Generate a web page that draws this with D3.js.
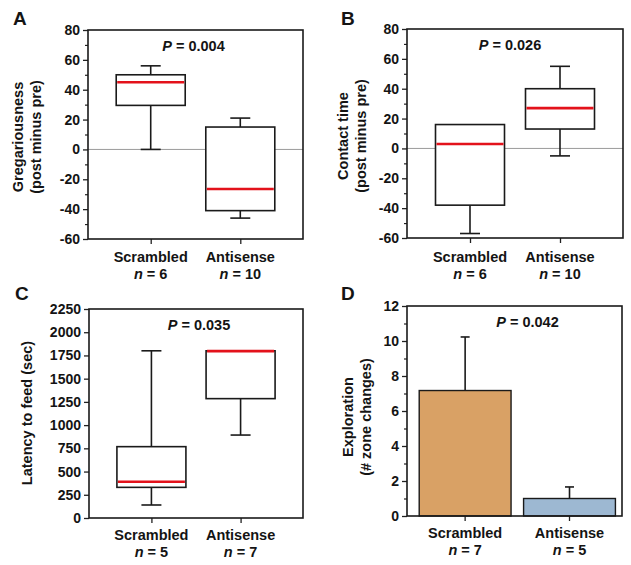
<!DOCTYPE html>
<html><head><meta charset="utf-8">
<script src="https://cdn.jsdelivr.net/npm/d3@7"></script>
<style>
body{margin:0;background:#fff;}
text{font-family:"Liberation Sans",Arial,sans-serif;font-weight:bold;fill:#141414;}
</style></head><body>
<svg id="c" width="631" height="565"></svg>
<script>
// ---- data ----
const groups = ["Scrambled", "Antisense"];
const nA = [6, 10], nB = [6, 10], nC = [5, 7], nD = [7, 5];
// box stats: [min, q1, median, q3, max]
const boxA = [[0, 29.5, 45, 50, 56], [-46, -41, -26.5, 15, 21]];
const boxB = [[-57, -38, 3, 16, 16], [-5, 13, 27, 40, 55]];
const boxC = [[140, 330, 390, 768, 1800], [893, 1285, 1797, 1800, 1800]];
const barD = [7.17, 1.0];
const errD = [10.23, 1.66];
const pA = "0.004", pB = "0.026", pC = "0.035", pD = "0.042";
const ticksA = [-60, -40, -20, 0, 20, 40, 60, 80];
const ticksC = [0, 250, 500, 750, 1000, 1250, 1500, 1750, 2000, 2250];
const ticksD = [0, 2, 4, 6, 8, 10, 12];
const barColors = ["#D9A165", "#9DB8D2"];

const svg = d3.select("#c");

function panel(o) {
  const g = svg.append("g");
  const y = d3.scaleLinear().domain(o.domain).range([o.bottom, o.top]);
  let x;
  if (o.bars) {
    x = d3.scaleBand().domain(groups).range([o.left, o.right]).paddingInner(0.12).paddingOuter(0.09).align(0.65);
  } else {
    x = d3.scalePoint().domain(groups).range([o.left, o.right]).padding(0.7);
  }
  const cx = d => o.bars ? x(d) + x.bandwidth() / 2 : x(d);

  // zero line
  if (o.zero) {
    g.append("line").attr("x1", o.left).attr("x2", o.right)
      .attr("y1", y(0)).attr("y2", y(0)).attr("stroke", "#9a9a9a").attr("stroke-width", 1);
  }
  // minor ticks
  if (o.minor) {
    g.append("g").attr("transform", `translate(${o.left},0)`)
      .call(d3.axisLeft(y).tickValues(o.minor).tickSize(3).tickFormat(""))
      .call(s => s.select(".domain").remove())
      .selectAll("line").attr("stroke", "#222").attr("stroke-width", 1.2);
  }
  // y axis
  const ya = g.append("g").attr("transform", `translate(${o.left},0)`)
    .call(d3.axisLeft(y).tickValues(o.ticks).tickSize(5).tickPadding(3).tickSizeOuter(0)
      .tickFormat(d => String(d)));
  ya.select(".domain").remove();
  ya.selectAll("line").attr("stroke", "#222").attr("stroke-width", 1.3);
  ya.selectAll("text").style("font-size", "14px").attr("fill", "#141414");

  // x axis ticks (outward)
  const xa = g.append("g").attr("transform", `translate(0,${o.bottom})`)
    .call(d3.axisBottom(x).tickSize(5).tickFormat("").tickSizeOuter(0));
  xa.select(".domain").remove();
  if (o.bars) xa.selectAll(".tick").attr("transform", d => `translate(${cx(d)},0)`);
  xa.selectAll("line").attr("stroke", "#222").attr("stroke-width", 1.3);

  // marks
  if (o.boxes) {
    o.boxes.forEach((b, i) => {
      const c = cx(groups[i]), w = 69, cap = 20;
      const gg = g.append("g").attr("stroke", "#1a1a1a").attr("stroke-width", 1.6).attr("fill", "none");
      if (b[4] > b[3]) {
        gg.append("line").attr("x1", c).attr("x2", c).attr("y1", y(b[3])).attr("y2", y(b[4]));
        gg.append("line").attr("x1", c - cap / 2).attr("x2", c + cap / 2).attr("y1", y(b[4])).attr("y2", y(b[4]));
      }
      if (b[0] < b[1]) {
        gg.append("line").attr("x1", c).attr("x2", c).attr("y1", y(b[1])).attr("y2", y(b[0]));
        gg.append("line").attr("x1", c - cap / 2).attr("x2", c + cap / 2).attr("y1", y(b[0])).attr("y2", y(b[0]));
      }
      gg.append("rect").attr("x", c - w / 2).attr("width", w)
        .attr("y", y(b[3])).attr("height", y(b[1]) - y(b[3])).attr("fill", "#fff");
      g.append("line").attr("x1", c - w / 2 + 1).attr("x2", c + w / 2 - 1)
        .attr("y1", y(b[2])).attr("y2", y(b[2])).attr("stroke", "#E3121B").attr("stroke-width", 2.6);
    });
  }
  if (o.bars) {
    o.bars.forEach((v, i) => {
      const c = cx(groups[i]);
      g.append("line").attr("x1", c).attr("x2", c).attr("y1", y(v)).attr("y2", y(o.err[i]))
        .attr("stroke", "#1a1a1a").attr("stroke-width", 1.6);
      g.append("line").attr("x1", c - 4.5).attr("x2", c + 4.5).attr("y1", y(o.err[i])).attr("y2", y(o.err[i]))
        .attr("stroke", "#1a1a1a").attr("stroke-width", 1.6);
      g.append("rect").attr("x", x(groups[i])).attr("width", x.bandwidth())
        .attr("y", y(v)).attr("height", y(0) - y(v))
        .attr("fill", barColors[i]).attr("stroke", "#1a1a1a").attr("stroke-width", 1.4);
    });
  }

  // frame
  g.append("rect").attr("x", o.left).attr("y", o.top).attr("width", o.right - o.left).attr("height", o.bottom - o.top)
    .attr("fill", "none").attr("stroke", "#1a1a1a").attr("stroke-width", 1.6);

  // P label
  const pt = g.append("text").attr("x", (o.left + o.right) / 2 + o.pdx).attr("y", o.top + 21)
    .attr("text-anchor", "middle").style("font-size", "14.5px");
  pt.append("tspan").style("font-style", "italic").text("P");
  pt.append("tspan").text(" = " + o.p);

  // category labels
  groups.forEach((gname, i) => {
    const c = cx(gname);
    g.append("text").attr("x", c).attr("y", o.bottom + o.catdy).attr("text-anchor", "middle")
      .style("font-size", "14.5px").text(gname);
    const t = g.append("text").attr("x", c).attr("y", o.bottom + o.catdy + 17).attr("text-anchor", "middle")
      .style("font-size", "14.5px");
    t.append("tspan").style("font-style", "italic").text("n");
    t.append("tspan").text(" = " + o.n[i]);
  });

  // y title
  o.ylab.forEach((s, k) => {
    g.append("text").attr("transform", `translate(${o.ylx[k]},${o.lyc}) rotate(-90)`)
      .attr("text-anchor", "middle").style("font-size", "14.5px").text(s);
  });

  // panel letter
  g.append("text").attr("x", o.lx).attr("y", o.ly).style("font-size", "19px").text(o.letter);
}

panel({letter: "A", lx: 13, ly: 25, left: 88, right: 303, top: 30, bottom: 239, domain: [-60, 80],
  ticks: ticksA, minor: d3.range(-50, 80, 20), zero: true, boxes: boxA, p: pA, pdx: -2, n: nA, catdy: 23,
  ylab: ["Gregariousness", "(post minus pre)"], ylx: [23, 41], lyc: 137});
panel({letter: "B", lx: 341, ly: 25, left: 407, right: 623, top: 29, bottom: 238, domain: [-60, 80],
  ticks: ticksA, minor: d3.range(-50, 80, 20), zero: true, boxes: boxB, p: pB, pdx: -5, n: nB, catdy: 24,
  ylab: ["Contact time", "(post minus pre)"], ylx: [348, 366], lyc: 136});
panel({letter: "C", lx: 15, ly: 300, left: 89, right: 303, top: 309, bottom: 518, domain: [0, 2250],
  ticks: ticksC, minor: null, zero: false, boxes: boxC, p: pC, pdx: 3, n: nC, catdy: 22,
  ylab: ["Latency to feed (sec)"], ylx: [32], lyc: 413});
panel({letter: "D", lx: 341, ly: 300, left: 407, right: 622, top: 306, bottom: 516, domain: [0, 12],
  ticks: ticksD, minor: d3.range(1, 12, 2), zero: false, bars: barD, err: errD, p: pD, pdx: 13, n: nD, catdy: 22,
  ylab: ["Exploration", "(# zone changes)"], ylx: [353, 371], lyc: 417});
</script></body></html>
